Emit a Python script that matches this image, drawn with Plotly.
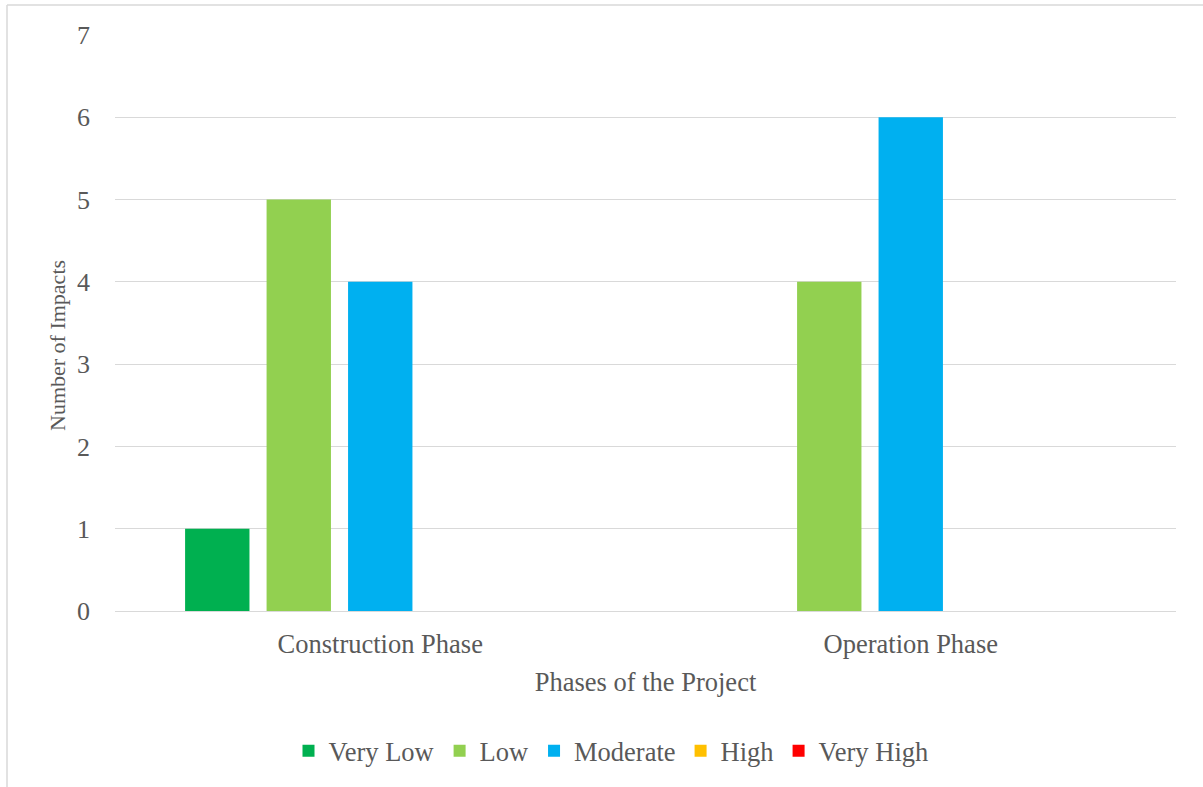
import plotly.graph_objects as go

categories = ["Construction Phase", "Operation Phase"]
series_names = ["Very Low", "Low", "Moderate", "High", "Very High"]
very_low = [1, 0]
low = [5, 4]
moderate = [4, 6]
high = [0, 0]
very_high = [0, 0]
y_ticks = [0, 1, 2, 3, 4, 5, 6, 7]
x_title = "Phases of the Project"
y_title = "Number of Impacts"

colors = ["#00B050", "#92D050", "#00B0F0", "#FFC000", "#FF0000"]
values = [very_low, low, moderate, high, very_high]

FONT = "Liberation Serif"
TXT = "#595959"

fig = go.Figure()
for name, vals, c in zip(series_names, values, colors):
    fig.add_trace(go.Bar(x=categories, y=vals, name=name, marker=dict(color=c, line=dict(width=0))))

W, H = 1203, 787
L, R, T, B = 115, 27, 35, 176
pw, ph = W - L - R, H - T - B

def px(x):
    return (x - L) / pw

def py(y):
    return (H - B - y) / ph

fig.update_layout(
    width=W, height=H,
    margin=dict(l=L, r=R, t=T, b=B, autoexpand=False),
    paper_bgcolor="white", plot_bgcolor="white",
    barmode="group", bargap=0.232, bargroupgap=0.21,
    font=dict(family=FONT, size=26, color=TXT),
    showlegend=True,
    legend=dict(orientation="h", x=px(611), xanchor="center", y=py(751), yanchor="middle",
                font=dict(family=FONT, size=26.5, color=TXT), itemwidth=30, traceorder="normal"),
    xaxis=dict(showgrid=False, showline=False, ticks="", ticklabelstandoff=14,
               tickfont=dict(size=26.5),
               title=dict(text=x_title, standoff=14, font=dict(size=26.5))),
    yaxis=dict(range=[0, 7], tickvals=y_ticks, showgrid=True, gridcolor="#D9D9D9", gridwidth=1.3,
               zeroline=True, zerolinecolor="#D9D9D9", zerolinewidth=1.3, showline=False, ticks="",
               ticklabelstandoff=24, tickfont=dict(size=26)),
)

fig.add_annotation(text=y_title, textangle=-90, xref="paper", yref="paper",
                   x=px(57), y=py(345), xanchor="center", yanchor="middle", showarrow=False,
                   font=dict(family=FONT, size=22, color=TXT))

fig.add_shape(type="line", xref="paper", yref="paper", x0=px(7), x1=px(7), y0=py(5), y1=py(800),
              line=dict(color="#D9D9D9", width=1.5))
fig.add_shape(type="line", xref="paper", yref="paper", x0=px(7), x1=px(1210), y0=py(5), y1=py(5),
              line=dict(color="#D9D9D9", width=1.5))

fig.write_html("out.html")
